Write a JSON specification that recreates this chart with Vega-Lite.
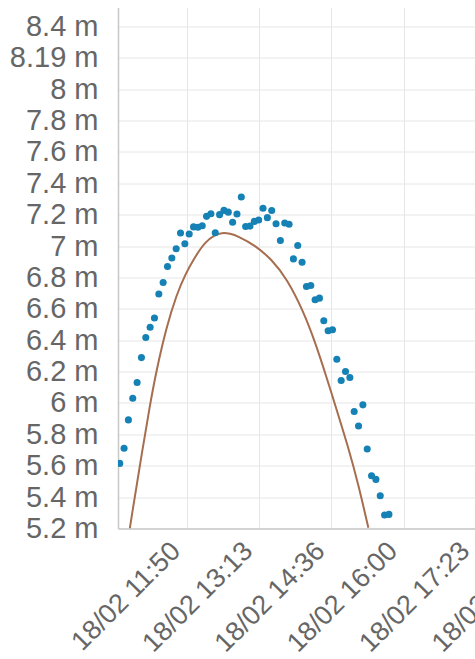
{
  "$schema": "https://vega.github.io/schema/vega-lite/v6.json",
  "autosize": {"type": "none"},
  "padding": {"left": 118, "top": 7.5, "right": 0, "bottom": 130.5},
  "width": 442,
  "height": 521,
  "config": {
    "view": {"stroke": null},
    "font": "Liberation Sans",
    "axis": {
      "labelFont": "Liberation Sans",
      "labelColor": "#666666",
      "gridColor": "#e6e6e6",
      "gridWidth": 1,
      "domainColor": "#c8c8c8",
      "domainWidth": 1.5,
      "ticks": false,
      "title": null
    }
  },
  "datasets": {
    "obs": [
      {"t": "2025-02-18T10:33:00", "v": 5.615},
      {"t": "2025-02-18T10:38:00", "v": 5.711},
      {"t": "2025-02-18T10:43:00", "v": 5.892},
      {"t": "2025-02-18T10:48:00", "v": 6.030},
      {"t": "2025-02-18T10:53:00", "v": 6.130},
      {"t": "2025-02-18T10:58:00", "v": 6.289},
      {"t": "2025-02-18T11:03:00", "v": 6.417},
      {"t": "2025-02-18T11:08:00", "v": 6.483},
      {"t": "2025-02-18T11:13:00", "v": 6.541},
      {"t": "2025-02-18T11:18:00", "v": 6.694},
      {"t": "2025-02-18T11:23:00", "v": 6.768},
      {"t": "2025-02-18T11:28:00", "v": 6.870},
      {"t": "2025-02-18T11:33:00", "v": 6.924},
      {"t": "2025-02-18T11:38:00", "v": 6.983},
      {"t": "2025-02-18T11:43:00", "v": 7.083},
      {"t": "2025-02-18T11:48:00", "v": 7.015},
      {"t": "2025-02-18T11:53:00", "v": 7.077},
      {"t": "2025-02-18T11:58:00", "v": 7.122},
      {"t": "2025-02-18T12:03:00", "v": 7.120},
      {"t": "2025-02-18T12:08:00", "v": 7.129},
      {"t": "2025-02-18T12:13:00", "v": 7.189},
      {"t": "2025-02-18T12:18:00", "v": 7.206},
      {"t": "2025-02-18T12:23:00", "v": 7.085},
      {"t": "2025-02-18T12:28:00", "v": 7.200},
      {"t": "2025-02-18T12:33:00", "v": 7.227},
      {"t": "2025-02-18T12:38:00", "v": 7.216},
      {"t": "2025-02-18T12:43:00", "v": 7.151},
      {"t": "2025-02-18T12:48:00", "v": 7.204},
      {"t": "2025-02-18T12:53:00", "v": 7.312},
      {"t": "2025-02-18T12:58:00", "v": 7.125},
      {"t": "2025-02-18T13:03:00", "v": 7.127},
      {"t": "2025-02-18T13:08:00", "v": 7.157},
      {"t": "2025-02-18T13:13:00", "v": 7.166},
      {"t": "2025-02-18T13:18:00", "v": 7.241},
      {"t": "2025-02-18T13:23:00", "v": 7.181},
      {"t": "2025-02-18T13:28:00", "v": 7.226},
      {"t": "2025-02-18T13:33:00", "v": 7.142},
      {"t": "2025-02-18T13:38:00", "v": 7.035},
      {"t": "2025-02-18T13:43:00", "v": 7.147},
      {"t": "2025-02-18T13:48:00", "v": 7.139},
      {"t": "2025-02-18T13:53:00", "v": 6.918},
      {"t": "2025-02-18T13:58:00", "v": 7.003},
      {"t": "2025-02-18T14:03:00", "v": 6.897},
      {"t": "2025-02-18T14:08:00", "v": 6.742},
      {"t": "2025-02-18T14:13:00", "v": 6.749},
      {"t": "2025-02-18T14:18:00", "v": 6.658},
      {"t": "2025-02-18T14:23:00", "v": 6.668},
      {"t": "2025-02-18T14:28:00", "v": 6.524},
      {"t": "2025-02-18T14:33:00", "v": 6.460},
      {"t": "2025-02-18T14:38:00", "v": 6.466},
      {"t": "2025-02-18T14:43:00", "v": 6.279},
      {"t": "2025-02-18T14:48:00", "v": 6.143},
      {"t": "2025-02-18T14:53:00", "v": 6.200},
      {"t": "2025-02-18T14:58:00", "v": 6.162},
      {"t": "2025-02-18T15:03:00", "v": 5.945},
      {"t": "2025-02-18T15:08:00", "v": 5.853},
      {"t": "2025-02-18T15:13:00", "v": 5.988},
      {"t": "2025-02-18T15:18:00", "v": 5.707},
      {"t": "2025-02-18T15:23:00", "v": 5.536},
      {"t": "2025-02-18T15:28:00", "v": 5.513},
      {"t": "2025-02-18T15:33:00", "v": 5.409},
      {"t": "2025-02-18T15:38:00", "v": 5.286},
      {"t": "2025-02-18T15:43:00", "v": 5.290}
    ],
    "pred": [
      {"t": "2025-02-18T10:44:36", "v": 5.201},
      {"t": "2025-02-18T10:48:24", "v": 5.335},
      {"t": "2025-02-18T10:58:48", "v": 5.690},
      {"t": "2025-02-18T11:07:42", "v": 5.985},
      {"t": "2025-02-18T11:15:24", "v": 6.211},
      {"t": "2025-02-18T11:26:54", "v": 6.487},
      {"t": "2025-02-18T11:38:30", "v": 6.690},
      {"t": "2025-02-18T11:48:00", "v": 6.815},
      {"t": "2025-02-18T11:59:36", "v": 6.930},
      {"t": "2025-02-18T12:11:06", "v": 7.025},
      {"t": "2025-02-18T12:22:36", "v": 7.072},
      {"t": "2025-02-18T12:30:42", "v": 7.085},
      {"t": "2025-02-18T12:39:54", "v": 7.080},
      {"t": "2025-02-18T12:49:30", "v": 7.062},
      {"t": "2025-02-18T13:08:42", "v": 7.005},
      {"t": "2025-02-18T13:28:00", "v": 6.915},
      {"t": "2025-02-18T13:45:36", "v": 6.790},
      {"t": "2025-02-18T14:04:24", "v": 6.585},
      {"t": "2025-02-18T14:17:54", "v": 6.390},
      {"t": "2025-02-18T14:31:24", "v": 6.160},
      {"t": "2025-02-18T14:42:54", "v": 5.955},
      {"t": "2025-02-18T14:56:18", "v": 5.715},
      {"t": "2025-02-18T15:07:48", "v": 5.480},
      {"t": "2025-02-18T15:19:18", "v": 5.205}
    ]
  },
  "encoding": {
    "x": {
      "field": "t",
      "type": "temporal",
      "scale": {
        "domain": [
          {"year": 2025, "month": 2, "date": 18, "hours": 10, "minutes": 31},
          {"year": 2025, "month": 2, "date": 18, "hours": 19, "minutes": 0}
        ]
      },
      "axis": {
        "values": [
          {"year": 2025, "month": 2, "date": 18, "hours": 11, "minutes": 50, "seconds": 0},
          {"year": 2025, "month": 2, "date": 18, "hours": 13, "minutes": 13, "seconds": 20},
          {"year": 2025, "month": 2, "date": 18, "hours": 14, "minutes": 36, "seconds": 40},
          {"year": 2025, "month": 2, "date": 18, "hours": 16, "minutes": 0, "seconds": 0},
          {"year": 2025, "month": 2, "date": 18, "hours": 17, "minutes": 23, "seconds": 20},
          {"year": 2025, "month": 2, "date": 18, "hours": 18, "minutes": 46, "seconds": 40}
        ],
        "format": "%d/%m %H:%M",
        "labelFontSize": 27,
        "labelAngle": -45,
        "labelAlign": "right",
        "labelBaseline": "middle",
        "labelPadding": 18,
        "labelOffset": -11,
        "labelOverlap": false,
        "labelFlush": false
      }
    },
    "y": {
      "field": "v",
      "type": "quantitative",
      "scale": {"domain": [5.2, 8.52], "nice": false, "zero": false},
      "axis": {
        "values": [5.2, 5.4, 5.6, 5.8, 6, 6.2, 6.4, 6.6, 6.8, 7, 7.2, 7.4, 7.6, 7.8, 8, 8.2, 8.4],
        "labelExpr": "datum.value == 8.2 ? '8.19 m' : datum.value + ' m'",
        "labelFontSize": 29,
        "labelPadding": 20,
        "labelOverlap": false,
        "labelFlush": false
      }
    }
  },
  "layer": [
    {
      "data": {"name": "pred"},
      "mark": {"type": "line", "color": "#a66d4f", "strokeWidth": 2, "interpolate": "basis", "clip": true}
    },
    {
      "data": {"name": "obs"},
      "mark": {"type": "circle", "color": "#1681b4", "size": 50, "opacity": 1, "clip": true}
    }
  ]
}
